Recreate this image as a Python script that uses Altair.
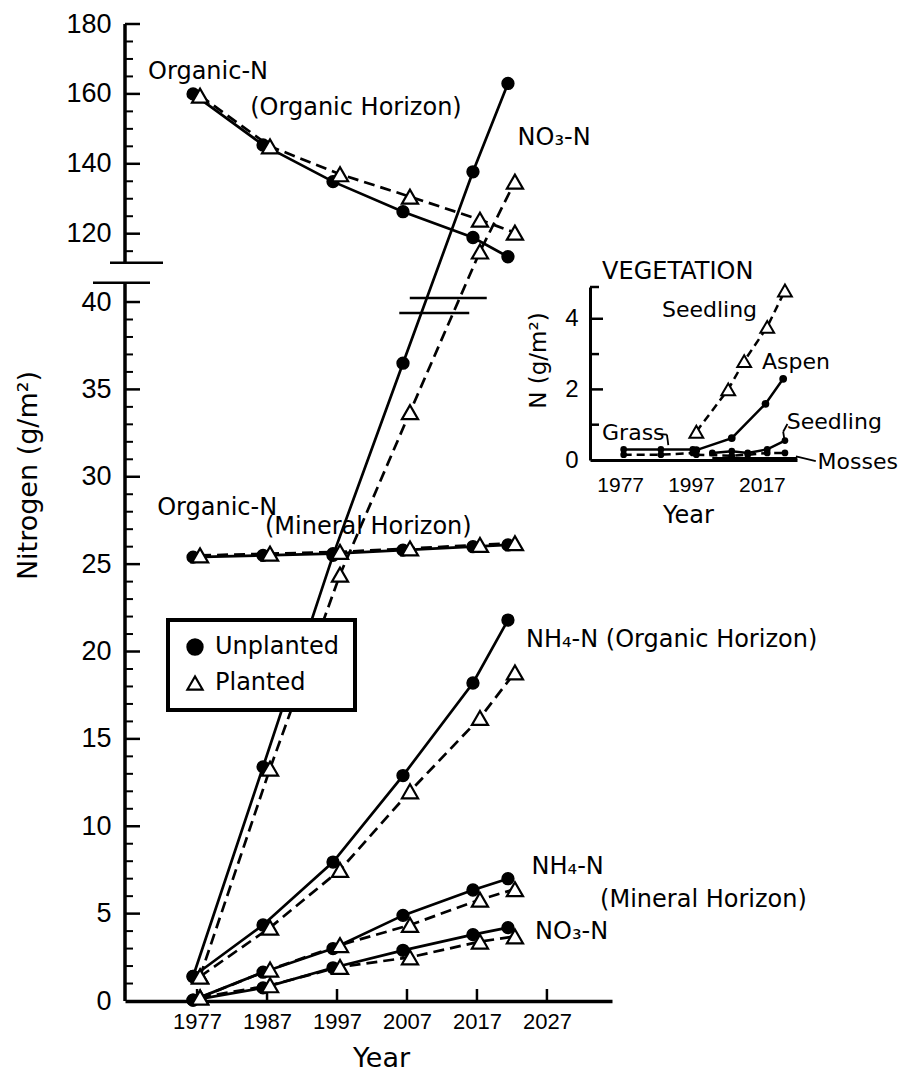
import altair as alt
import pandas as pd

# ---------------- data ----------------
YEARS = [1977, 1987, 1997, 2007, 2017, 2022]

ORGN_ORGANIC_UNPLANTED = [160.0, 145.4, 134.9, 126.3, 118.9, 113.4]
ORGN_ORGANIC_PLANTED = [159.5, 145.0, 137.0, 130.6, 124.0, 120.3]
NO3_ORGANIC_UNPLANTED = [1.4, 13.4, 25.5, 36.5, 137.7, 163.0]
NO3_ORGANIC_PLANTED = [1.4, 13.3, 24.4, 33.7, 114.9, 134.9]
ORGN_MINERAL_UNPLANTED = [25.4, 25.5, 25.6, 25.8, 26.0, 26.1]
ORGN_MINERAL_PLANTED = [25.5, 25.6, 25.7, 25.9, 26.1, 26.2]
NH4_ORGANIC_UNPLANTED = [1.4, 4.35, 7.95, 12.9, 18.2, 21.8]
NH4_ORGANIC_PLANTED = [1.4, 4.2, 7.5, 12.0, 16.2, 18.8]
NH4_MINERAL_UNPLANTED = [0.05, 1.65, 3.0, 4.9, 6.35, 7.0]
NH4_MINERAL_PLANTED = [0.2, 1.8, 3.2, 4.35, 5.8, 6.4]
NO3_MINERAL_UNPLANTED = [0.05, 0.75, 1.9, 2.9, 3.8, 4.2]
NO3_MINERAL_PLANTED = [0.2, 0.9, 1.95, 2.5, 3.4, 3.7]

# vegetation inset
SEEDLING_PL_YEARS = [1998.5, 2007.5, 2012.0, 2018.5, 2023.5]
SEEDLING_PL = [0.8, 2.0, 2.8, 3.77, 4.8]
ASPEN_UN_YEARS = [1998.5, 2008.5, 2018.0, 2023.0]
ASPEN_UN = [0.28, 0.62, 1.59, 2.3]
GRASS_YEARS = [1978.0, 1988.5, 1997.5]
GRASS_UN = [0.3, 0.3, 0.3]
GRASS_PL = [0.15, 0.15, 0.2]
SEEDLING_UN_YEARS = [2003.0, 2008.5, 2013.0, 2018.5, 2023.5]
SEEDLING_UN = [0.2, 0.25, 0.2, 0.3, 0.55]
ASPEN_PL_YEARS = [1998.5, 2008.5, 2013.0, 2018.5, 2023.5]
ASPEN_PL = [0.15, 0.12, 0.15, 0.2, 0.2]
MOSSES_YEARS = [2003.0, 2013.0, 2018.5, 2027.0]
MOSSES = [0.05, 0.05, 0.05, 0.05]

# axis ticks / labels
X_TICKS = [1977, 1987, 1997, 2007, 2017, 2027]
Y_LABELS = [0, 5, 10, 15, 20, 25, 30, 35, 40, 120, 140, 160, 180]
Y_MINOR = [v for v in range(1, 41) if v % 5] + [115, 125, 130, 135, 145, 150, 155, 165, 170, 175]
INSET_X_TICKS = [1977, 1997, 2017]
INSET_Y_LABELS = [0, 2, 4]
INSET_Y_MAJOR = [2, 4]
INSET_Y_MINOR = [1, 3, 4.9]

# broken axis
LOW_MAX, HIGH_MIN, TOP = 41.1, 111.7, 180.0
GAP, K = 1.15, 0.2
AXIS_SEGMENTS = [(0.0, LOW_MAX), (HIGH_MIN, TOP)]

# annotations
MAIN_TEXT = ["Organic-N", "(Organic Horizon)", "NO₃-N", "Organic-N", "(Mineral Horizon)",
             "NH₄-N (Organic Horizon)", "NH₄-N", "(Mineral Horizon)", "NO₃-N"]
MAIN_TEXT_YEAR = [1970.0, 1984.6, 2022.8, 1971.3, 1986.7, 2024.0, 2024.8, 2034.6, 2025.3]
MAIN_TEXT_VALUE = [166.3, 156.0, 147.4, 28.2, 27.1, 20.66, 7.67, 5.78, 3.95]

INSET_TEXT = ["Seedling", "Aspen", "Grass", "Seedling", "Mosses"]
INSET_TEXT_YEAR = [1988.8, 2017.0, 1971.9, 2024.0, 2032.7]
INSET_TEXT_VALUE = [4.25, 2.78, 0.77, 1.08, -0.05]

# ---------------- helpers ----------------
XMIN, XMAX = 1966.7, 2036.3
W, H = 487, 977
PX_PER_YEAR = W / (XMAX - XMIN)


def disp(v):
    return v if v <= LOW_MAX else LOW_MAX + GAP + (v - HIGH_MIN) * K


DMAX = disp(TOP)
PX_PER_UNIT = H / DMAX


def disp_expr(f):
    return f"datum.{f} <= {LOW_MAX} ? datum.{f} : {LOW_MAX + GAP} + (datum.{f} - {HIGH_MIN}) * {K}"


FONT = "DejaVu Sans"
NUMFONT = "Liberation Sans"

# ---------------- main tables ----------------
series = [
    ("orgN_org", "Unplanted", ORGN_ORGANIC_UNPLANTED), ("orgN_org", "Planted", ORGN_ORGANIC_PLANTED),
    ("no3_org", "Unplanted", NO3_ORGANIC_UNPLANTED), ("no3_org", "Planted", NO3_ORGANIC_PLANTED),
    ("orgN_min", "Unplanted", ORGN_MINERAL_UNPLANTED), ("orgN_min", "Planted", ORGN_MINERAL_PLANTED),
    ("nh4_org", "Unplanted", NH4_ORGANIC_UNPLANTED), ("nh4_org", "Planted", NH4_ORGANIC_PLANTED),
    ("nh4_min", "Unplanted", NH4_MINERAL_UNPLANTED), ("nh4_min", "Planted", NH4_MINERAL_PLANTED),
    ("no3_min", "Unplanted", NO3_MINERAL_UNPLANTED), ("no3_min", "Planted", NO3_MINERAL_PLANTED),
]
rows = []
for s, t, vals in series:
    for y, v in zip(YEARS, vals):
        rows.append({"series": s, "treatment": t, "year": y, "v": v})
main_df = pd.DataFrame(rows)

XS = alt.Scale(domain=[XMIN, XMAX], nice=False, zero=False)
YS = alt.Scale(domain=[0, DMAX], nice=False, zero=False)

label_expr = (f"datum.value <= {LOW_MAX + 0.01} ? format(datum.value, '.0f') : "
              f"format({HIGH_MIN} + (datum.value - {LOW_MAX + GAP}) / {K}, '.0f')")

AXX = alt.Axis(values=X_TICKS, format="d", ticks=False, domain=True, domainWidth=3.5,
               domainColor="black", labelFontSize=22, labelFont=NUMFONT, labelPadding=10,
               grid=False, title="Year", titleFontSize=27, titleFont=FONT, titleFontWeight="normal",
               titleX=256, titleY=57, titleAlign="center", titleBaseline="middle")
AXY = alt.Axis(values=[disp(v) for v in Y_LABELS], labelExpr=label_expr, ticks=False, domain=False,
               labelFontSize=27, labelFont=NUMFONT, labelPadding=14, grid=False,
               title="Nitrogen (g/m²)", titleFontSize=27, titleFont=FONT, titleFontWeight="normal",
               titleX=-97, titleY=451, titleAlign="center", titleBaseline="middle", titleAngle=270)

X = alt.X("year:Q", scale=XS, axis=AXX)
Y = alt.Y("disp:Q", scale=YS, axis=AXY)

base = alt.Chart(main_df).transform_calculate(disp=disp_expr("v"))
unpl = base.transform_filter("datum.treatment == 'Unplanted'")
plan = base.transform_filter("datum.treatment == 'Planted'")

line_u = unpl.mark_line(color="black", strokeWidth=2.7, xOffset=-4).encode(x=X, y=Y, detail="series:N")
line_p = plan.mark_line(color="black", strokeWidth=2.7, strokeDash=[11, 6], xOffset=3).encode(
    x=X, y=Y, detail="series:N")

TREAT = ["Unplanted", "Planted"]
SHAPE = alt.Scale(domain=TREAT, range=["circle", "triangle-up"])
FILL = alt.Scale(domain=TREAT, range=["black", "white"])
STROKE = alt.Scale(domain=TREAT, range=["black", "black"])
LEG = alt.Legend(orient="none", legendX=43, legendY=596, title=None, strokeColor="black",
                 fillColor="white", padding=15, labelFontSize=24, labelFont=FONT,
                 symbolSize=230, symbolStrokeWidth=2.2, rowPadding=12, labelOffset=8,
                 labelExpr="datum.label + '\u2003\u2003'", zindex=1)

pts_u = unpl.mark_point(filled=True, strokeWidth=1.5, size=140, opacity=1, xOffset=-4).encode(
    x=X, y=Y,
    shape=alt.Shape("treatment:N", scale=SHAPE, legend=LEG),
    fill=alt.Fill("treatment:N", scale=FILL, legend=LEG),
    stroke=alt.Stroke("treatment:N", scale=STROKE, legend=LEG))
pts_p = plan.mark_point(filled=True, strokeWidth=2.2, size=260, opacity=1, xOffset=3).encode(
    x=X, y=Y,
    shape=alt.Shape("treatment:N", scale=SHAPE, legend=LEG),
    fill=alt.Fill("treatment:N", scale=FILL, legend=LEG),
    stroke=alt.Stroke("treatment:N", scale=STROKE, legend=LEG))

# broken y-axis line
seg_df = pd.DataFrame({"v": [a for a, b in AXIS_SEGMENTS], "v2": [b for a, b in AXIS_SEGMENTS]})
axis_line = alt.Chart(seg_df).transform_calculate(disp=disp_expr("v"), disp2=disp_expr("v2")).mark_rule(
    color="black", strokeWidth=3.5).encode(x=alt.datum(XMIN), y=Y, y2="disp2:Q")

# break marks (on the axis and across the NO3 lines)
brk_df = pd.DataFrame({
    "v": [LOW_MAX, HIGH_MIN, 40.23, 39.37],
    "year": [XMIN - 32 / PX_PER_YEAR, XMIN - 15 / PX_PER_YEAR, 2007.4, 2005.9],
    "year2": [XMIN + 25 / PX_PER_YEAR, XMIN + 38 / PX_PER_YEAR, 2018.4, 2015.9],
})
breaks = alt.Chart(brk_df).transform_calculate(disp=disp_expr("v")).mark_rule(
    color="black", strokeWidth=2.5).encode(x=X, x2="year2:Q", y=Y)

# inward ticks
ytick_df = pd.DataFrame({"v": [v for v in Y_LABELS if v > 0] + Y_MINOR,
                         "major": [1] * (len(Y_LABELS) - 1) + [0] * len(Y_MINOR)})
ytb = alt.Chart(ytick_df).transform_calculate(disp=disp_expr("v"))
yt_major = ytb.transform_filter("datum.major == 1").mark_rule(color="black", strokeWidth=2.5).encode(
    x=alt.datum(XMIN), x2=alt.datum(XMIN + 15 / PX_PER_YEAR), y=Y)
yt_minor = ytb.transform_filter("datum.major == 0").mark_rule(color="black", strokeWidth=2).encode(
    x=alt.datum(XMIN), x2=alt.datum(XMIN + 8 / PX_PER_YEAR), y=Y)
xtick_df = pd.DataFrame({"year": X_TICKS})
xt = alt.Chart(xtick_df).mark_rule(color="black", strokeWidth=2.5).encode(
    x=X, y=alt.datum(0), y2=alt.datum(12 / PX_PER_UNIT))

ann_df = pd.DataFrame({"text": MAIN_TEXT, "year": MAIN_TEXT_YEAR, "v": MAIN_TEXT_VALUE})
ann = alt.Chart(ann_df).transform_calculate(disp=disp_expr("v")).mark_text(
    align="left", baseline="middle", font=FONT, fontSize=24, color="black").encode(
    x=X, y=Y, text="text:N")

main = alt.layer(line_u, line_p, axis_line, breaks, yt_major, yt_minor, xt, ann, pts_u, pts_p)

# ---------------- inset ----------------
irows = []
for s, t, mk, yrs, vals in [
    ("seedling_pl", "Planted", "tri", SEEDLING_PL_YEARS, SEEDLING_PL),
    ("aspen_un", "Unplanted", "big", ASPEN_UN_YEARS, ASPEN_UN),
    ("grass_un", "Unplanted", "small", GRASS_YEARS, GRASS_UN),
    ("grass_pl", "Planted", "small", GRASS_YEARS, GRASS_PL),
    ("seedling_un", "Unplanted", "small", SEEDLING_UN_YEARS, SEEDLING_UN),
    ("aspen_pl", "Planted", "small", ASPEN_PL_YEARS, ASPEN_PL),
    ("mosses", "Unplanted", "none", MOSSES_YEARS, MOSSES),
]:
    for y, v in zip(yrs, vals):
        irows.append({"series": s, "treatment": t, "marker": mk, "year": y, "v": v})
ins_df = pd.DataFrame(irows)

IXMIN, IXMAX = 1968.5, 2026.9
IX_PX = (672 - 465) / (IXMAX - IXMIN)
IXS = alt.Scale(domain=[IXMIN, IXMAX], range=[465, 672], nice=False, zero=False)
IYS = alt.Scale(domain=[0, 4.9], range=[436, 263], nice=False, zero=False)
AIX = alt.Axis(orient="bottom", offset=-(H - 436), values=INSET_X_TICKS, format="d", ticks=False,
               domain=True, domainWidth=3, domainColor="black", labelFontSize=21, labelFont=NUMFONT,
               labelPadding=14, grid=False, title="Year", titleFontSize=24, titleFont=FONT,
               titleFontWeight="normal", titleX=563, titleY=55, titleAlign="center",
               titleBaseline="middle")
AIY = alt.Axis(orient="left", offset=-465, values=INSET_Y_LABELS, format="d", ticks=False,
               domain=True, domainWidth=3, domainColor="black", labelFontSize=24, labelFont=NUMFONT,
               labelPadding=12, grid=False, title="N (g/m²)", titleFontSize=23, titleFont=FONT,
               titleFontWeight="normal", titleX=-52, titleY=336, titleAlign="center",
               titleBaseline="middle", titleAngle=270)
IX = alt.X("year:Q", scale=IXS, axis=AIX)
IY = alt.Y("v:Q", scale=IYS, axis=AIY)

ib = alt.Chart(ins_df)
iline_u = ib.transform_filter("datum.treatment == 'Unplanted'").mark_line(
    color="black", strokeWidth=2.5).encode(x=IX, y=IY, detail="series:N")
iline_p = ib.transform_filter("datum.treatment == 'Planted'").mark_line(
    color="black", strokeWidth=2.5, strokeDash=[8, 5]).encode(x=IX, y=IY, detail="series:N")
itri = ib.transform_filter("datum.marker == 'tri'").mark_point(
    shape="triangle-up", filled=True, fill="white", stroke="black", strokeWidth=2, size=190,
    opacity=1).encode(x=IX, y=IY)
ibig = ib.transform_filter("datum.marker == 'big'").mark_point(
    shape="circle", filled=True, fill="black", size=60, opacity=1).encode(x=IX, y=IY)
ismall = ib.transform_filter("datum.marker == 'small'").mark_point(
    shape="circle", filled=True, fill="black", size=45, opacity=1).encode(x=IX, y=IY)

itick_df = pd.DataFrame({"v": INSET_Y_MAJOR + INSET_Y_MINOR,
                         "major": [1] * len(INSET_Y_MAJOR) + [0] * len(INSET_Y_MINOR)})
itb = alt.Chart(itick_df)
it_major = itb.transform_filter("datum.major == 1").mark_rule(color="black", strokeWidth=2.5).encode(
    x=alt.datum(IXMIN), x2=alt.datum(IXMIN + 13 / IX_PX), y=IY)
it_minor = itb.transform_filter("datum.major == 0").mark_rule(color="black", strokeWidth=2.5).encode(
    x=alt.datum(IXMIN), x2=alt.datum(IXMIN + 9 / IX_PX), y=IY)

iann_df = pd.DataFrame({"text": INSET_TEXT, "year": INSET_TEXT_YEAR, "v": INSET_TEXT_VALUE})
iann = alt.Chart(iann_df).mark_text(align="left", baseline="middle", font=FONT, fontSize=22,
                                    color="black").encode(x=IX, y=IY, text="text:N")
ititle = alt.Chart(pd.DataFrame({"text": ["VEGETATION"], "year": [1971.9], "v": [5.33]})).mark_text(
    align="left", baseline="middle", font=FONT, fontSize=24, color="black").encode(
    x=IX, y=IY, text="text:N")

ptr_df = pd.DataFrame({
    "year": [1987.6, 1990.2, 2024.2, 2023.0, 2026.6],
    "v": [0.74, 0.72, 1.02, 0.8, 0.1],
    "year2": [1990.2, 1990.6, 2023.0, 2023.4, 2032.2],
    "v2": [0.72, 0.42, 0.8, 0.55, -0.03],
})
ptr = alt.Chart(ptr_df).mark_rule(color="black", strokeWidth=1.8).encode(
    x=IX, y=IY, x2="year2:Q", y2="v2:Q")

inset = alt.layer(iline_u, iline_p, it_major, it_minor, ptr, iann, ititle, ibig, ismall, itri)

chart = alt.layer(main, inset).resolve_scale(x="independent", y="independent").properties(
    width=W, height=H,
    autosize=alt.AutoSizeParams(type="none"),
    padding={"left": 125, "top": 24, "right": 899 - 125 - W, "bottom": 1075 - 24 - H},
).configure_view(stroke=None).configure_axis(
    labelColor="black", titleColor="black").configure_legend(strokeWidth=4)

chart.save("out.html", embed_options={"renderer": "svg", "actions": False})
